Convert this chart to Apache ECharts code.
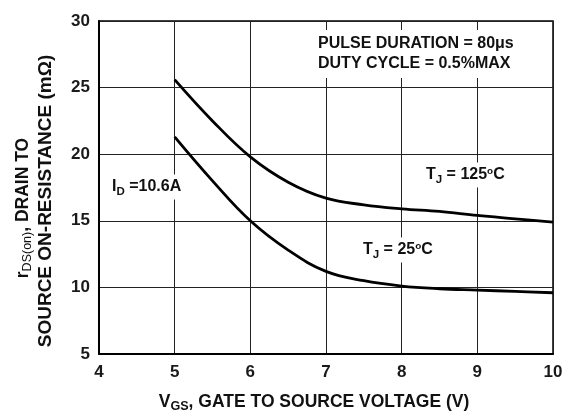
<!DOCTYPE html>
<html>
<head>
<meta charset="utf-8">
<script src="https://cdn.jsdelivr.net/npm/echarts@6/dist/echarts.min.js"></script>
<style>
  html, body { margin: 0; padding: 0; background: #fff; }
  #chart { width: 573px; height: 412px; }
</style>
</head>
<body>
<div id="chart"></div>
<script>
// data
const vgs = [5, 5.5, 6, 6.5, 7, 7.5, 8, 8.5, 9, 9.5, 10];
const rds125 = [25.6, 22.5, 19.8, 17.9, 16.7, 16.2, 15.9, 15.7, 15.4, 15.15, 14.9];
const rds25 = [21.3, 18.0, 15.0, 12.8, 11.2, 10.5, 10.1, 9.9, 9.8, 9.7, 9.6];
const xTicks = [4, 5, 6, 7, 8, 9, 10];
const yTicks = [5, 10, 15, 20, 25, 30];

const font = '"Liberation Sans", Arial, sans-serif';

const toPairs = (xs, ys) => xs.map((x, i) => [x, ys[i]]);

// sub / superscript styles for the labels
const subSup = (size) => ({
    sub: { fontFamily: font, fontWeight: 'bold', fontSize: size * 0.72, fill: '#111', padding: [size * 0.55, 0, 0, 0] },
    sup: { fontFamily: font, fontWeight: 'bold', fontSize: size * 0.62, fill: '#111', padding: [0, 0, size * 0.5, 0] }
});

const label = (text, x, y, size, extra) => ({
    type: 'text',
    x: x,
    y: y,
    z: 100,
    style: Object.assign({
        text: text,
        fontFamily: font,
        fontWeight: 'bold',
        fontSize: size,
        fill: '#111',
        align: 'left',
        verticalAlign: 'middle',
        backgroundColor: '#fff',
        padding: [2, 3],
        rich: subSup(size)
    }, extra || {})
});

const chart = echarts.init(document.getElementById('chart'));

const option = {
    animation: false,
    backgroundColor: '#fff',
    grid: {
        left: 99,
        right: 20,
        top: 21,
        bottom: 58,
        show: true,
        borderColor: '#000',
        borderWidth: 1.5
    },
    xAxis: {
        type: 'value',
        min: xTicks[0],
        max: xTicks[xTicks.length - 1],
        interval: 1,
        axisLine: { show: true, onZero: false, lineStyle: { color: '#000', width: 2 } },
        axisTick: { show: false },
        splitLine: { show: true, lineStyle: { color: '#222', width: 1 } },
        axisLabel: {
            margin: 10,
            fontFamily: font,
            fontWeight: 'bold',
            fontSize: 17,
            color: '#1a1a1a'
        }
    },
    yAxis: {
        type: 'value',
        min: yTicks[0],
        max: yTicks[yTicks.length - 1],
        interval: 5,
        axisLine: { show: true, onZero: false, lineStyle: { color: '#000', width: 2 } },
        axisTick: { show: false },
        splitLine: { show: true, lineStyle: { color: '#222', width: 1 } },
        axisLabel: {
            margin: 9,
            fontFamily: font,
            fontWeight: 'bold',
            fontSize: 17,
            color: '#1a1a1a'
        }
    },
    series: [
        {
            name: 'TJ = 125C',
            type: 'line',
            smooth: 0.4,
            symbol: 'none',
            data: toPairs(vgs, rds125),
            lineStyle: { color: '#000', width: 2.8 },
            z: 3
        },
        {
            name: 'TJ = 25C',
            type: 'line',
            smooth: 0.4,
            symbol: 'none',
            data: toPairs(vgs, rds25),
            lineStyle: { color: '#000', width: 2.8 },
            z: 3
        }
    ],
    graphic: [
        label('PULSE DURATION = 80\u03BCs\nDUTY CYCLE = 0.5%MAX', 315, 54, 16, { lineHeight: 20, padding: [4, 3] }),
        label('T{sub|J} = 125{sup|o}C', 423, 175, 16),
        label('T{sub|J} = 25{sup|o}C', 360, 250, 16),
        label('I{sub|D} =10.6A', 110, 187, 16, { padding: [2, 2] }),
        label('V{sub|GS}, GATE TO SOURCE VOLTAGE (V)', 314, 402, 17.5, {
            align: 'center', backgroundColor: 'transparent', padding: 0
        }),
        Object.assign(label('r{sub|DS(on)}, DRAIN TO', 23, 208, 17.5, {
            align: 'center', backgroundColor: 'transparent', padding: 0,
            rich: {
                sub: { fontFamily: font, fontSize: 12.5, fill: '#111', padding: [9, 0, 0, 0] }
            }
        }), { rotation: Math.PI / 2 }),
        Object.assign(label('SOURCE ON-RESISTANCE (m\u03A9)', 46, 201, 19, {
            align: 'center', backgroundColor: 'transparent', padding: 0
        }), { rotation: Math.PI / 2 })
    ]
};

chart.setOption(option);

window.addEventListener('resize', () => chart.resize());
</script>
</body>
</html>
